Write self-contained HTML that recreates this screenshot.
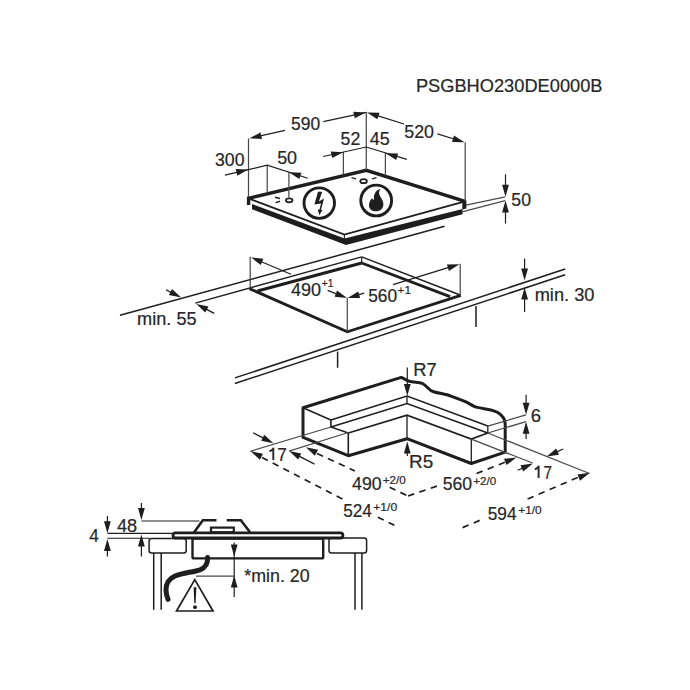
<!DOCTYPE html>
<html><head><meta charset="utf-8"><style>
html,body{margin:0;padding:0;background:#fff;}
svg{display:block;font-family:"Liberation Sans",sans-serif;}
</style></head><body>
<svg width="690" height="690" viewBox="0 0 690 690">
<rect width="690" height="690" fill="#fff"/>
<text transform="translate(415.89,92.00) scale(1.043,1)" font-size="17.5" fill="#262626" stroke="#262626" stroke-width="0.2">PSGBHO230DE0000B</text>
<polygon points="248.3,198.4 366.3,170.3 465.0,201.3 344.4,234.6" fill="#fff"/>
<polygon points="252.0,204.1 344.6,238.6 462.5,208.9 462.5,214.3 346.0,244.9 252.0,209.2" fill="#1e1e1e"/>
<polyline points="248.3,198.4 366.3,170.3 465.0,201.3" fill="none" stroke="#1e1e1e" stroke-width="3.4" stroke-linejoin="miter" />
<polyline points="248.3,198.4 344.4,234.6 465.0,201.3" fill="none" stroke="#1e1e1e" stroke-width="1.9" stroke-linejoin="miter" />
<polygon points="246.9,196.5 250.3,197.5 250.3,205.0 246.9,205.0" fill="#1e1e1e"/>
<polygon points="462.3,199.5 466.4,200.5 466.4,208.6 462.3,209.5" fill="#1e1e1e"/>
<line x1="344.4" y1="234.6" x2="344.4" y2="240.1" stroke="#1e1e1e" stroke-width="1.1"/>
<line x1="248.5" y1="138.4" x2="248.5" y2="197.0" stroke="#4a4a4a" stroke-width="1.25"/>
<line x1="267.2" y1="165.2" x2="267.2" y2="192.6" stroke="#4a4a4a" stroke-width="1.25"/>
<line x1="288.9" y1="172.2" x2="288.9" y2="197.5" stroke="#4a4a4a" stroke-width="1.25"/>
<line x1="343.4" y1="152.0" x2="343.4" y2="174.5" stroke="#4a4a4a" stroke-width="1.25"/>
<line x1="366.3" y1="112.3" x2="366.3" y2="170.0" stroke="#4a4a4a" stroke-width="1.25"/>
<line x1="385.4" y1="153.0" x2="385.4" y2="175.5" stroke="#4a4a4a" stroke-width="1.25"/>
<line x1="465.2" y1="142.3" x2="465.2" y2="201.0" stroke="#4a4a4a" stroke-width="1.25"/>
<polygon points="249.5,138.3 260.5,132.4 262.0,139.0" fill="#1e1e1e"/>
<line x1="285.0" y1="130.4" x2="259.3" y2="136.1" stroke="#1e1e1e" stroke-width="1.2"/>
<line x1="323.3" y1="121.7" x2="366.3" y2="112.3" stroke="#1e1e1e" stroke-width="1.2"/>
<polygon points="365.8,112.4 354.8,118.3 353.3,111.7" fill="#1e1e1e"/>
<polygon points="367.0,112.4 379.5,112.7 377.4,119.2" fill="#1e1e1e"/>
<line x1="404.0" y1="124.0" x2="376.5" y2="115.4" stroke="#1e1e1e" stroke-width="1.2"/>
<polygon points="464.5,142.3 452.0,142.0 454.0,135.5" fill="#1e1e1e"/>
<line x1="437.4" y1="133.9" x2="454.9" y2="139.3" stroke="#1e1e1e" stroke-width="1.2"/>
<text transform="translate(291.05,130.30) scale(0.995,1)" font-size="17.5" fill="#262626" stroke="#262626" stroke-width="0.2">590</text>
<text transform="translate(404.24,137.60) scale(1.020,1)" font-size="17.5" fill="#262626" stroke="#262626" stroke-width="0.2">520</text>
<polyline points="323.2,156.5 366.3,147.0 406.8,159.4" fill="none" stroke="#1e1e1e" stroke-width="1.2" stroke-linejoin="miter" />
<polygon points="343.2,152.2 332.2,158.0 330.8,151.4" fill="#1e1e1e"/>
<polygon points="385.6,153.3 398.1,153.4 396.2,159.9" fill="#1e1e1e"/>
<text transform="translate(340.54,144.80) scale(1.014,1)" font-size="17.5" fill="#262626" stroke="#262626" stroke-width="0.2">52</text>
<text transform="translate(369.80,144.80) scale(1.028,1)" font-size="17.5" fill="#262626" stroke="#262626" stroke-width="0.2">45</text>
<polyline points="224.9,175.1 267.2,165.2 307.8,178.3" fill="none" stroke="#1e1e1e" stroke-width="1.2" stroke-linejoin="miter" />
<polygon points="248.2,169.6 237.3,175.7 235.7,169.0" fill="#1e1e1e"/>
<polygon points="288.9,172.2 301.4,172.7 299.3,179.1" fill="#1e1e1e"/>
<text transform="translate(215.04,166.10) scale(1.009,1)" font-size="17.5" fill="#262626" stroke="#262626" stroke-width="0.2">300</text>
<text transform="translate(277.13,163.70) scale(1.026,1)" font-size="17.5" fill="#262626" stroke="#262626" stroke-width="0.2">50</text>
<ellipse cx="289.2" cy="200.3" rx="3.3" ry="2.0" fill="none" stroke="#1e1e1e" stroke-width="1.7"/>
<ellipse cx="363.6" cy="181.2" rx="3.3" ry="2.0" fill="none" stroke="#1e1e1e" stroke-width="1.7"/>
<line x1="275.0" y1="197.2" x2="280.0" y2="198.4" stroke="#1e1e1e" stroke-width="1.5"/>
<line x1="275.5" y1="202.6" x2="280.0" y2="201.3" stroke="#1e1e1e" stroke-width="1.5"/>
<line x1="351.5" y1="177.6" x2="356.0" y2="178.9" stroke="#1e1e1e" stroke-width="1.5"/>
<line x1="372.0" y1="178.9" x2="376.5" y2="177.6" stroke="#1e1e1e" stroke-width="1.5"/>
<circle cx="319.25" cy="203.1" r="15.25" fill="none" stroke="#1e1e1e" stroke-width="2.9"/>
<circle cx="376.2" cy="200.5" r="15.4" fill="none" stroke="#1e1e1e" stroke-width="2.9"/>
<polygon points="318.0,191.8 322.2,191.8 318.9,201.4 324.0,198.6 321.0,209.8 322.4,209.9 319.4,215.2 317.7,209.6 319.5,209.6 321.0,203.4 314.4,204.6" fill="#1e1e1e"/>
<path d="M380.4,189.1 C377,189.8 374.5,192.5 374,196.5 L373.8,200 C373,199.5 372.2,199 371.8,198.3 C370,200.5 369,203 369,205.5 C369,209 372,211.3 376,211.3 C380,211.3 383.4,208.5 383.4,204.5 C383.4,201 381.5,198.5 380,196 C378.8,194 378.6,191.5 380.4,189.1 Z" fill="#1e1e1e"/>
<line x1="466.0" y1="205.2" x2="505.2" y2="196.8" stroke="#4a4a4a" stroke-width="1.25"/>
<line x1="462.0" y1="211.8" x2="505.2" y2="200.6" stroke="#4a4a4a" stroke-width="1.25"/>
<polygon points="505.5,196.8 502.1,184.8 508.9,184.8" fill="#1e1e1e"/>
<line x1="505.5" y1="174.3" x2="505.5" y2="186.8" stroke="#1e1e1e" stroke-width="1.2"/>
<polygon points="505.5,200.6 508.9,212.6 502.1,212.6" fill="#1e1e1e"/>
<line x1="505.5" y1="223.6" x2="505.5" y2="210.6" stroke="#1e1e1e" stroke-width="1.2"/>
<text transform="translate(511.34,206.10) scale(1.010,1)" font-size="17.5" fill="#262626" stroke="#262626" stroke-width="0.2">50</text>
<line x1="120.0" y1="315.3" x2="444.5" y2="226.3" stroke="#1e1e1e" stroke-width="1.5"/>
<line x1="195.3" y1="303.1" x2="361.7" y2="256.9" stroke="#1e1e1e" stroke-width="1.5"/>
<line x1="361.7" y1="256.9" x2="460.8" y2="295.2" stroke="#1e1e1e" stroke-width="1.5"/>
<line x1="361.7" y1="256.9" x2="361.7" y2="263.0" stroke="#1e1e1e" stroke-width="1.2"/>
<line x1="257.5" y1="291.0" x2="361.7" y2="263.0" stroke="#1e1e1e" stroke-width="2.9"/>
<line x1="361.7" y1="263.0" x2="450.0" y2="296.6" stroke="#1e1e1e" stroke-width="2.9"/>
<polyline points="249.4,288.6 347.3,331.8 460.8,295.4" fill="none" stroke="#1e1e1e" stroke-width="2.9" stroke-linejoin="miter" />
<line x1="250.2" y1="256.8" x2="250.2" y2="288.7" stroke="#4a4a4a" stroke-width="1.25"/>
<line x1="347.3" y1="297.9" x2="347.3" y2="331.8" stroke="#4a4a4a" stroke-width="1.25"/>
<line x1="460.2" y1="263.8" x2="460.2" y2="295.7" stroke="#4a4a4a" stroke-width="1.25"/>
<polygon points="251.0,257.3 263.4,258.8 260.7,265.1" fill="#1e1e1e"/>
<line x1="291.0" y1="274.2" x2="260.2" y2="261.2" stroke="#1e1e1e" stroke-width="1.2"/>
<polygon points="459.4,264.2 448.9,271.0 446.9,264.5" fill="#1e1e1e"/>
<line x1="393.0" y1="284.6" x2="449.8" y2="267.1" stroke="#1e1e1e" stroke-width="1.2"/>
<polygon points="347.0,298.0 334.6,296.8 337.1,290.5" fill="#1e1e1e"/>
<line x1="327.6" y1="290.4" x2="337.7" y2="294.4" stroke="#1e1e1e" stroke-width="1.2"/>
<polygon points="347.6,298.0 358.2,291.4 360.1,298.0" fill="#1e1e1e"/>
<line x1="364.3" y1="293.2" x2="357.2" y2="295.2" stroke="#1e1e1e" stroke-width="1.2"/>
<text transform="translate(291.00,296.10) scale(1.032,1)" font-size="17.5" fill="#262626" stroke="#262626" stroke-width="0.2">490</text>
<text transform="translate(321.84,287.10) scale(0.886,1)" font-size="11.5" fill="#262626" stroke="#262626" stroke-width="0.2">+1</text>
<text transform="translate(368.16,302.20) scale(0.991,1)" font-size="17.5" fill="#262626" stroke="#262626" stroke-width="0.2">560</text>
<text transform="translate(397.56,293.60) scale(1.028,1)" font-size="11.5" fill="#262626" stroke="#262626" stroke-width="0.2">+1</text>
<line x1="234.9" y1="377.9" x2="565.2" y2="269.0" stroke="#1e1e1e" stroke-width="1.5"/>
<line x1="234.9" y1="383.5" x2="565.2" y2="274.8" stroke="#1e1e1e" stroke-width="1.5"/>
<line x1="337.6" y1="351.6" x2="337.6" y2="367.7" stroke="#1e1e1e" stroke-width="1.5"/>
<line x1="476.0" y1="306.0" x2="476.0" y2="327.0" stroke="#1e1e1e" stroke-width="1.5"/>
<polygon points="181.2,297.4 168.9,295.1 172.0,289.0" fill="#1e1e1e"/>
<line x1="166.1" y1="289.9" x2="172.2" y2="293.0" stroke="#1e1e1e" stroke-width="1.2"/>
<polygon points="196.3,304.0 208.5,306.6 205.3,312.6" fill="#1e1e1e"/>
<line x1="214.2" y1="313.4" x2="205.2" y2="308.6" stroke="#1e1e1e" stroke-width="1.2"/>
<text transform="translate(137.07,325.30) scale(1.038,1)" font-size="17.5" fill="#262626" stroke="#262626" stroke-width="0.2">min. 55</text>
<polygon points="524.6,280.6 521.2,268.6 528.0,268.6" fill="#1e1e1e"/>
<line x1="524.6" y1="258.6" x2="524.6" y2="270.6" stroke="#1e1e1e" stroke-width="1.2"/>
<polygon points="524.6,287.5 528.0,299.5 521.2,299.5" fill="#1e1e1e"/>
<line x1="524.6" y1="311.9" x2="524.6" y2="297.5" stroke="#1e1e1e" stroke-width="1.2"/>
<text transform="translate(534.66,301.40) scale(1.044,1)" font-size="17.5" fill="#262626" stroke="#262626" stroke-width="0.2">min. 30</text>
<path d="M303,437.4 L303,407.8 L401.3,377.4 L409.1,381.3 C414,382.5 419,382 422.2,383.4 C427,385.5 428.5,390.5 433.5,391.7 C440,393.6 446,394 450.9,396.1 C456,398 460,399.5 464.8,401.3 C469,403 473,406.5 477,407.4 C482,408.5 486.5,409 490.9,410 C495,411 499.5,413 501.5,415.5 C504,418 505.2,420 505.2,424 L505.2,452.2 L471.3,463.5 L407,438.7 L348.3,455.7 Z" fill="#fff" stroke="#1e1e1e" stroke-width="3" stroke-linejoin="round"/>
<line x1="348.3" y1="433.0" x2="348.3" y2="455.7" stroke="#1e1e1e" stroke-width="1.6"/>
<line x1="407.0" y1="415.2" x2="407.0" y2="438.7" stroke="#1e1e1e" stroke-width="1.3"/>
<line x1="471.3" y1="439.1" x2="471.3" y2="463.5" stroke="#1e1e1e" stroke-width="1.3"/>
<polyline points="348.3,433.0 407.0,415.2 471.3,439.1 487.8,433.0" fill="none" stroke="#1e1e1e" stroke-width="1.6" stroke-linejoin="miter" />
<polyline points="303.0,407.8 330.9,420.0 330.9,427.0 348.3,433.0" fill="none" stroke="#1e1e1e" stroke-width="1.6" stroke-linejoin="miter" />
<polyline points="330.9,420.0 407.0,396.1 487.8,426.1" fill="none" stroke="#1e1e1e" stroke-width="1.6" stroke-linejoin="miter" />
<polyline points="330.9,427.0 407.0,403.6 487.8,433.0" fill="none" stroke="#1e1e1e" stroke-width="1.6" stroke-linejoin="miter" />
<line x1="407.0" y1="396.1" x2="407.0" y2="403.6" stroke="#1e1e1e" stroke-width="1.3"/>
<line x1="487.8" y1="426.1" x2="487.8" y2="433.0" stroke="#1e1e1e" stroke-width="1.3"/>
<line x1="250.2" y1="451.3" x2="330.9" y2="427.0" stroke="#4a4a4a" stroke-width="1.25"/>
<line x1="289.1" y1="451.1" x2="348.3" y2="432.5" stroke="#4a4a4a" stroke-width="1.25"/>
<line x1="487.8" y1="433.0" x2="589.5" y2="473.5" stroke="#4a4a4a" stroke-width="1.25"/>
<line x1="471.3" y1="439.1" x2="532.5" y2="463.0" stroke="#4a4a4a" stroke-width="1.25"/>
<line x1="487.8" y1="426.1" x2="526.0" y2="414.8" stroke="#4a4a4a" stroke-width="1.25"/>
<line x1="487.8" y1="433.0" x2="526.0" y2="421.7" stroke="#4a4a4a" stroke-width="1.25"/>
<polygon points="407.3,396.0 403.9,384.0 410.7,384.0" fill="#1e1e1e"/>
<line x1="407.3" y1="367.4" x2="407.3" y2="386.0" stroke="#1e1e1e" stroke-width="1.2"/>
<polygon points="407.3,441.6 410.7,453.6 403.9,453.6" fill="#1e1e1e"/>
<line x1="407.3" y1="456.0" x2="407.3" y2="451.6" stroke="#1e1e1e" stroke-width="1.2"/>
<text transform="translate(413.18,375.80) scale(1.048,1)" font-size="17.5" fill="#262626" stroke="#262626" stroke-width="0.2">R7</text>
<text transform="translate(409.03,467.70) scale(1.083,1)" font-size="17.5" fill="#262626" stroke="#262626" stroke-width="0.2">R5</text>
<polygon points="526.1,414.8 522.7,402.8 529.5,402.8" fill="#1e1e1e"/>
<line x1="526.1" y1="394.8" x2="526.1" y2="404.8" stroke="#1e1e1e" stroke-width="1.2"/>
<polygon points="526.1,421.7 529.5,433.7 522.7,433.7" fill="#1e1e1e"/>
<line x1="526.1" y1="439.1" x2="526.1" y2="431.7" stroke="#1e1e1e" stroke-width="1.2"/>
<text transform="translate(530.73,422.30) scale(1.056,1)" font-size="17.5" fill="#262626" stroke="#262626" stroke-width="0.2">6</text>
<polygon points="273.4,443.2 261.2,440.8 264.3,434.7" fill="#1e1e1e"/>
<line x1="253.1" y1="432.8" x2="264.5" y2="438.6" stroke="#1e1e1e" stroke-width="1.2"/>
<polygon points="289.1,451.1 301.3,453.5 298.2,459.6" fill="#1e1e1e"/>
<line x1="314.6" y1="464.1" x2="298.0" y2="455.6" stroke="#1e1e1e" stroke-width="1.2"/>
<path d="M273.30,459.90 L273.30,447.70 M273.70,447.90 Q272.50,450.30 269.50,451.30" fill="none" stroke="#262626" stroke-width="1.9"/>
<text transform="translate(277.29,460.60) scale(0.980,1)" font-size="17.5" fill="#262626" stroke="#262626" stroke-width="0.2">7</text>
<polygon points="546.7,456.6 556.2,448.5 559.0,454.7" fill="#1e1e1e"/>
<line x1="563.2" y1="449.0" x2="555.8" y2="452.4" stroke="#1e1e1e" stroke-width="1.2"/>
<polygon points="532.9,463.6 523.2,471.5 520.5,465.3" fill="#1e1e1e"/>
<line x1="517.7" y1="470.2" x2="523.7" y2="467.6" stroke="#1e1e1e" stroke-width="1.2"/>
<path d="M538.60,478.00 L538.60,465.80 M539.00,466.00 Q537.80,468.40 534.80,469.40" fill="none" stroke="#262626" stroke-width="1.9"/>
<text transform="translate(543.48,478.80) scale(0.879,1)" font-size="17.5" fill="#262626" stroke="#262626" stroke-width="0.2">7</text>
<polygon points="250.8,451.3 263.0,453.8 259.9,459.8" fill="#1e1e1e"/>
<line x1="262.0" y1="457.5" x2="343.0" y2="499.3" stroke="#1e1e1e" stroke-width="1.7" stroke-dasharray="6.5 5.5"/>
<line x1="377.8" y1="517.2" x2="394.8" y2="525.5" stroke="#1e1e1e" stroke-width="1.7" stroke-dasharray="6.5 5.5"/>
<text transform="translate(343.16,517.10) scale(0.985,1)" font-size="17.5" fill="#262626" stroke="#262626" stroke-width="0.2">524</text>
<text transform="translate(373.25,511.30) scale(1.052,1)" font-size="11.5" fill="#262626" stroke="#262626" stroke-width="0.2">+1/0</text>
<polygon points="305.9,447.2 318.1,449.8 314.9,455.8" fill="#1e1e1e"/>
<line x1="317.0" y1="453.5" x2="354.8" y2="470.9" stroke="#1e1e1e" stroke-width="1.7" stroke-dasharray="6.5 5.5"/>
<line x1="389.6" y1="487.2" x2="408.0" y2="496.0" stroke="#1e1e1e" stroke-width="1.7" stroke-dasharray="6.5 5.5"/>
<text transform="translate(352.11,490.00) scale(1.014,1)" font-size="17.5" fill="#262626" stroke="#262626" stroke-width="0.2">490</text>
<text transform="translate(382.77,484.30) scale(1.015,1)" font-size="11.5" fill="#262626" stroke="#262626" stroke-width="0.2">+2/0</text>
<line x1="408.0" y1="496.0" x2="441.5" y2="484.6" stroke="#1e1e1e" stroke-width="1.7" stroke-dasharray="6.5 5.5"/>
<line x1="476.5" y1="473.5" x2="507.0" y2="461.5" stroke="#1e1e1e" stroke-width="1.7" stroke-dasharray="6.5 5.5"/>
<polygon points="516.4,457.5 506.5,465.1 504.0,458.8" fill="#1e1e1e"/>
<text transform="translate(442.64,490.40) scale(1.009,1)" font-size="17.5" fill="#262626" stroke="#262626" stroke-width="0.2">560</text>
<text transform="translate(473.27,484.50) scale(1.010,1)" font-size="11.5" fill="#262626" stroke="#262626" stroke-width="0.2">+2/0</text>
<line x1="462.6" y1="527.6" x2="481.3" y2="519.7" stroke="#1e1e1e" stroke-width="1.7" stroke-dasharray="6.5 5.5"/>
<line x1="527.6" y1="499.0" x2="580.0" y2="476.5" stroke="#1e1e1e" stroke-width="1.7" stroke-dasharray="6.5 5.5"/>
<polygon points="589.7,472.8 580.1,480.8 577.4,474.6" fill="#1e1e1e"/>
<text transform="translate(487.66,519.80) scale(0.989,1)" font-size="17.5" fill="#262626" stroke="#262626" stroke-width="0.2">594</text>
<text transform="translate(518.26,513.80) scale(1.029,1)" font-size="11.5" fill="#262626" stroke="#262626" stroke-width="0.2">+1/0</text>
<text transform="translate(89.22,542.00) scale(0.983,1)" font-size="17.5" fill="#262626" stroke="#262626" stroke-width="0.2">4</text>
<text transform="translate(117.00,531.60) scale(1.039,1)" font-size="17.5" fill="#262626" stroke="#262626" stroke-width="0.2">48</text>
<polygon points="107.4,533.3 104.0,521.3 110.8,521.3" fill="#1e1e1e"/>
<line x1="107.4" y1="515.9" x2="107.4" y2="523.3" stroke="#1e1e1e" stroke-width="1.2"/>
<polygon points="107.4,539.0 110.8,551.0 104.0,551.0" fill="#1e1e1e"/>
<line x1="107.4" y1="556.4" x2="107.4" y2="549.0" stroke="#1e1e1e" stroke-width="1.2"/>
<polygon points="141.4,520.0 138.0,508.0 144.8,508.0" fill="#1e1e1e"/>
<line x1="141.4" y1="503.1" x2="141.4" y2="510.0" stroke="#1e1e1e" stroke-width="1.2"/>
<polygon points="141.4,534.4 144.8,546.4 138.0,546.4" fill="#1e1e1e"/>
<line x1="141.4" y1="556.4" x2="141.4" y2="544.4" stroke="#1e1e1e" stroke-width="1.2"/>
<line x1="141.4" y1="521.0" x2="199.5" y2="521.0" stroke="#1e1e1e" stroke-width="1.1"/>
<line x1="107.4" y1="533.4" x2="172.0" y2="533.4" stroke="#1e1e1e" stroke-width="1.1"/>
<line x1="107.4" y1="538.3" x2="149.6" y2="538.3" stroke="#1e1e1e" stroke-width="1.1"/>
<rect x="149.1" y="538.6" width="37.1" height="14.4" rx="2.5" fill="#fff" stroke="#1e1e1e" stroke-width="1.5"/>
<rect x="329" y="537.9" width="37.6" height="15.1" rx="2.5" fill="#fff" stroke="#1e1e1e" stroke-width="1.5"/>
<line x1="153.7" y1="553.0" x2="153.7" y2="609.8" stroke="#1e1e1e" stroke-width="1.5"/>
<line x1="161.2" y1="553.0" x2="161.2" y2="609.8" stroke="#1e1e1e" stroke-width="1.5"/>
<line x1="355.0" y1="553.0" x2="355.0" y2="609.8" stroke="#1e1e1e" stroke-width="1.5"/>
<line x1="361.9" y1="553.0" x2="361.9" y2="609.8" stroke="#1e1e1e" stroke-width="1.5"/>
<rect x="192.5" y="538.6" width="130.7" height="19.8" rx="1.5" fill="#fff" stroke="#1e1e1e" stroke-width="2.4"/>
<rect x="173.0" y="532.8" width="169.9" height="5.2" rx="2.5" fill="#fff" stroke="#1e1e1e" stroke-width="2.8"/>
<polyline points="194.0,532.5 202.8,520.3 216.5,520.3" fill="none" stroke="#1e1e1e" stroke-width="2.6" stroke-linejoin="miter" />
<polyline points="226.7,520.3 240.8,520.3 249.9,532.0" fill="none" stroke="#1e1e1e" stroke-width="2.6" stroke-linejoin="miter" />
<rect x="211" y="527.6" width="22.8" height="4.6" fill="#fff" stroke="#1e1e1e" stroke-width="2.2"/>
<path d="M207.6,557.5 C207.9,563 206,567.5 200,569.8 C193,572.2 183,572.8 175,576 C168,579 166,584 166,590 C166,594 167,597 168,599.3" fill="none" stroke="#1e1e1e" stroke-width="5" stroke-linecap="round"/>
<polygon points="194.8,579.6 176.5,611.0 213.0,611.0" fill="none" stroke="#1e1e1e" stroke-width="1.7" stroke-linejoin="miter" />
<polygon points="193.6,587.2 196.4,587.2 195.6,603.3 194.3,603.3" fill="#1e1e1e"/>
<circle cx="195.0" cy="607.2" r="1.9" fill="#1e1e1e"/>
<line x1="234.2" y1="542.5" x2="234.2" y2="597.0" stroke="#1e1e1e" stroke-width="1.2"/>
<polygon points="234.2,556.6 230.8,544.6 237.6,544.6" fill="#1e1e1e"/>
<polygon points="234.2,575.6 237.6,587.6 230.8,587.6" fill="#1e1e1e"/>
<line x1="196.0" y1="576.2" x2="234.2" y2="576.2" stroke="#4a4a4a" stroke-width="1.25"/>
<text transform="translate(244.29,581.90) scale(1.019,1)" font-size="17.5" fill="#262626" stroke="#262626" stroke-width="0.2">*min. 20</text>
</svg></body></html>
